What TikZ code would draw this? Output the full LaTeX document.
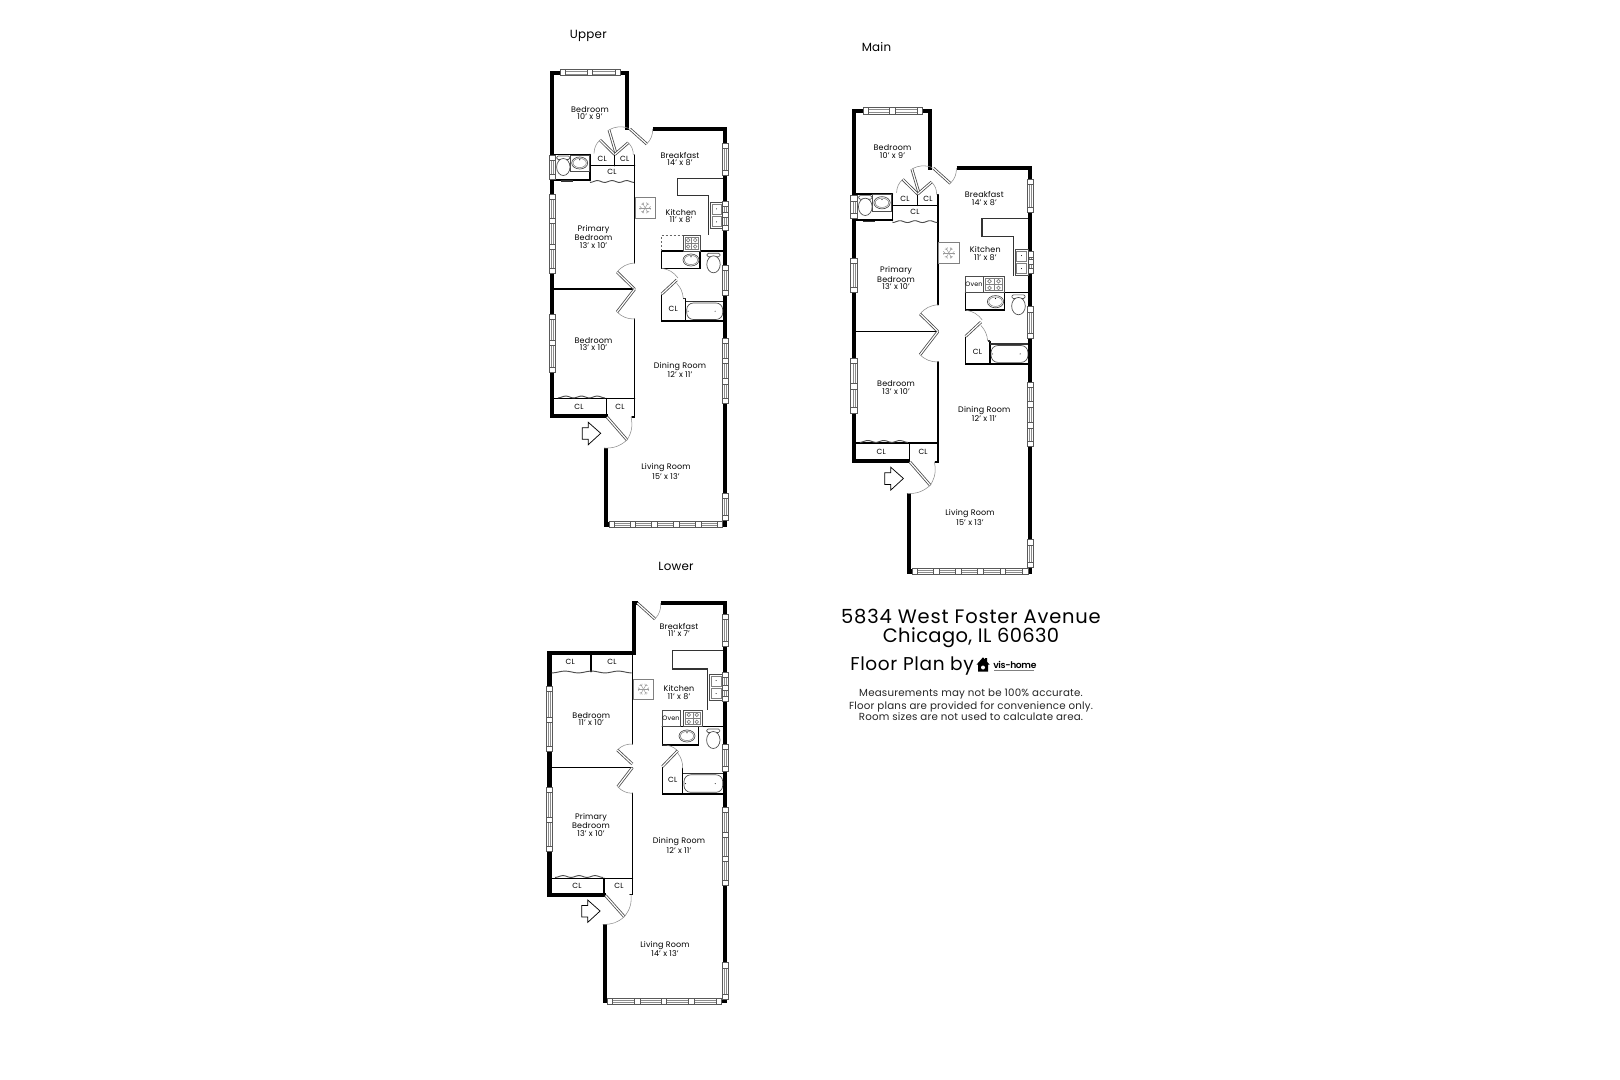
\documentclass[tikz,border=0pt]{standalone}
\usepackage{fontspec}
\usetikzlibrary{calc}
\setmainfont{Poppins}[LetterSpace=2]
\newfontfamily\titlefont{Poppins}[LetterSpace=4.2]
\newfontfamily\cityfont{Poppins}[LetterSpace=2]
\newfontfamily\byfont{Poppins}[LetterSpace=3.5]
\newfontfamily\logofont{Poppins}[LetterSpace=-4,UprightFont=* SemiBold]
\tikzset{
  wall/.style={line width=3.2pt,draw=black,line cap=butt,line join=miter},
  inwall/.style={line width=1.05pt,draw=black,line cap=round},
  thinwall/.style={line width=0.8pt,draw=black!80},
  winbox/.style={line width=0.45pt,draw=black!65,fill=white},
  winline/.style={line width=0.35pt,draw=black!45},
  leaf/.style={draw=black!70,line width=0.6pt,double=white,double distance=0.9pt},
  swing/.style={draw=black!45,line width=0.4pt},
  fix/.style={draw=black!70,line width=0.5pt,fill=white},
  fixg/.style={draw=black!50,line width=0.4pt},
  ventline/.style={draw=black!40,line width=0.35pt},
  wavy/.style={draw=black!70,line width=0.7pt},
  roomlabel/.style={inner sep=0pt,align=center,font=\fontsize{6}{5.6}\selectfont,text=black},
  clabel/.style={inner sep=0pt,font=\fontsize{5.6}{5.6}\selectfont,text=black},
  ovenlabel/.style={inner sep=0pt,font=\fontsize{4.8}{5}\selectfont,text=black},
  floorlabel/.style={inner sep=0pt,font=\fontsize{8.9}{10}\selectfont},
  titlelabel/.style={inner sep=0pt,font=\titlefont\fontsize{14.6}{16}\selectfont},
  citylabel/.style={inner sep=0pt,font=\cityfont\fontsize{14.6}{16}\selectfont},
  bylabel/.style={inner sep=0pt,font=\byfont\fontsize{13.9}{16}\selectfont},
  notelabel/.style={inner sep=0pt,font=\fontsize{7.7}{8}\selectfont,text=black!85},
}
\newcommand{\rl}[4]{\node[roomlabel] (#1) at (#2,#3) {#4};}
\newcommand{\cl}[3]{\node[clabel] (#1) at (#2,#3) {CL};}
\newcommand{\vwin}[4]{%
  \draw[winbox] (#1-3.2,#2) rectangle (#1+3.2,#3);
  \draw[winline] (#1-1.1,#2) -- (#1-1.1,#3) (#1+1.1,#2) -- (#1+1.1,#3);
  \draw[winbox] (#1-3.2,#2) rectangle (#1+3.2,#2+5);
  \draw[winbox] (#1-3.2,#3-5) rectangle (#1+3.2,#3);
  \foreach \d in {#4} {\draw[winbox] (#1-3.2,\d) rectangle (#1+3.2,\d+5.5);}
}
\newcommand{\hwin}[4]{%
  \draw[winbox] (#2,#1-3) rectangle (#3,#1+3);
  \draw[winline] (#2,#1-1.1) -- (#3,#1-1.1) (#2,#1+1.1) -- (#3,#1+1.1);
  \draw[winbox] (#2,#1-3) rectangle (#2+5,#1+3);
  \draw[winbox] (#3-5,#1-3) rectangle (#3,#1+3);
  \foreach \d in {#4} {\draw[winbox] (\d,#1-3) rectangle (\d+5.5,#1+3);}
}
\newcommand{\wave}[3]{\draw[wavy] plot[domain=#1:#2,samples=41,variable=\t] (\t,{#3+0.9*cos(1080*((\t-#1)/(#2-#1)))});}
\newcommand{\vent}[2]{%
  \draw[fix,draw=black!50] (#1,#2) rectangle (#1+20.5,#2+20.5);
  \foreach \a in {0,60,120} {\draw[ventline] ($(#1+10.2,#2+10.2)+(\a:5.8)$) -- ($(#1+10.2,#2+10.2)+(\a+180:5.8)$);}
  \foreach \a in {0,60,120,180,240,300} {\draw[ventline] ($(#1+10.2,#2+10.2)+(\a:3.8)$) -- ($(#1+10.2,#2+10.2)+(\a+16:5.6)$) ($(#1+10.2,#2+10.2)+(\a:3.8)$) -- ($(#1+10.2,#2+10.2)+(\a-16:5.6)$);}
}
\newcommand{\stove}[4]{%
  \draw[fix] (#1,#2) rectangle (#3,#4);
  \draw[fixg] (#1+2,#2+2) rectangle (#3-2,#4-2);
  \draw[fixg] (#1+2,{(#2+#4)/2}) -- (#3-2,{(#2+#4)/2}) ({(#1+#3)/2},#2+2) -- ({(#1+#3)/2},#4-2);
  \foreach \u in {0.29,0.71} \foreach \v in {0.29,0.71} {
    \draw[fixg,line width=0.5pt] ({#1+\u*(#3-#1)},{#2+\v*(#4-#2)}) circle (1.8);}
}
\newcommand{\ksink}[4]{%
  \draw[fix] (#1,#2) rectangle (#3,#4);
  \draw[fixg] (#1+1.5,#2+2) rectangle (#3-1.5,{(#2+#4)/2-0.8});
  \draw[fixg] (#1+1.5,{(#2+#4)/2+0.8}) rectangle (#3-1.5,#4-2);
  \fill[black] ({(#1+#3)/2},{(3*#2+#4)/4}) circle (0.5) ({(#1+#3)/2},{(#2+3*#4)/4}) circle (0.5);
}
\newcommand{\basin}[2]{%
  \draw[fix] (#1,#2) ellipse (8 and 6);
  \draw[fixg] (#1,#2) ellipse (6.6 and 4.6);
  \fill[black] (#1,#2-3.2) circle (0.6);
}
\newcommand{\toilet}[2]{%
  \draw[fix,rounded corners=1pt] (#1-6.5,#2-11) rectangle (#1+6.5,#2-7.5);
  \draw[fix] (#1,#2) ellipse (6.7 and 8.5);
}
\newcommand{\tub}[4]{%
  \draw[fix,rounded corners=5pt] (#1,#2) -- (#3,#2) -- (#3,#4) -- (#1,#4) -- cycle;
  \fill[black] (#1+1.5,{(#2+#4)/2}) circle (0.5) (#3-7.5,{(#2+#4)/2}) circle (0.5);
}
\newcommand{\entryarrow}[2]{%
  \draw[line width=0.55pt,draw=black,fill=white] (#1,#2+5.4) -- (#1+6,#2+5.4) -- (#1+6,#2) -- (#1+18.4,#2+11) -- (#1+6,#2+22.4) -- (#1+6,#2+17) -- (#1,#2+17) -- cycle;
}
% the plan shared by the upper and main floors
\newcommand{\planUM}[1]{%
  \draw[wall] (552.2,181) -- (552.2,72.8) -- (627,72.8) -- (627,130.5);
  \draw[wall] (652.9,129) -- (725,129) -- (725,524.5) -- (606,524.5) -- (606,448);
  \draw[wall] (552.2,179) -- (552.2,416.2) -- (607.5,416.2);
  % interior walls
  \draw[inwall] (554,154.5) -- (590,154.5) (590,154.5) -- (590,180.5) (554,180) -- (590,180);
  \draw[inwall] (614.7,154.5) -- (614.7,165.7) (590,165.7) -- (634.6,165.7) (634.6,155) -- (634.6,263);
  \draw[inwall] (554,289.2) -- (634.6,289.2) (634.6,319) -- (634.6,417) -- (632,417);
  \draw[inwall] (554,398.5) -- (634.6,398.5) (606.5,398.5) -- (606.5,416);
  \draw[thinwall] (561,181) -- (573,181);
  \wave{590}{634}{181.5}
  \wave{558}{605}{397}
  % doors
  \draw[swing] (609,130) to[bend left=25] (629,128.5);
  \draw[leaf] (616,153.5) -- (609,130);
  \draw[leaf] (630,129) -- (646.7,144);
  \draw[swing] (646.7,144) to[bend right=22] (652.7,129);
  \draw[leaf] (614.7,154.5) -- (600,140);
  \draw[swing] (600,140) to[bend right=22] (594,153.3);
  \draw[leaf] (614.7,154.5) -- (628.3,142.7);
  \draw[swing] (628.3,142.7) to[bend left=22] (633.3,155);
  \draw[leaf] (634.6,289.2) -- (617,272);
  \draw[swing] (617,272) to[bend left=22] (634.6,263);
  \draw[leaf] (634.6,289.2) -- (617,312);
  \draw[swing] (617,312) to[bend right=22] (634.6,319);
  \draw[leaf] (607,417) -- (627,440);
  \draw[swing] (604,448) to[bend right=22] (627,440);
  \draw[swing] (631,417) to[bend left=22] (627,440);
  % bath
  \draw[inwall] (661.7,251) -- (723,251) (661.7,251) -- (661.7,268.3) -- (700,268.3) -- (700,251);
  \draw[inwall] (661.7,295) -- (661.7,321) -- (723,321);
  \draw[inwall] (685.7,299) -- (685.7,321);
  \draw[thinwall] (685.7,301.5) -- (723,301.5);
  \draw[leaf] (661.7,294) -- (676.7,280);
  \draw[swing] (661.7,268.3) to[bend left=22] (678,278);
  \draw[swing] (676.7,283.3) to[bend left=18] (683.3,298.5);
  \draw[thinwall] (683.3,298.5) -- (685.7,298.5);
  \tub{686.7}{303}{722.7}{319.5}
  \basin{691}{260}
  \toilet{713.5}{264.3}
  % kitchen counter
  \draw[thinwall] (723,178.3) -- (677.7,178.3) -- (677.7,195.7) -- (708.3,195.7) -- (708.3,235);
  \entryarrow{582.3}{422.3}
  % labels
  \rl{#1bed}{590}{113}{Bedroom\\10' x 9'}
  \rl{#1bkf}{680}{159}{Breakfast\\14' x 8'}
  \rl{#1pri}{593.5}{237}{Primary\\Bedroom\\13' x 10'}
  \rl{#1bedb}{593.5}{344}{Bedroom\\13' x 10'}
  \rl{#1din}{680}{370}{Dining Room\\12' x 11'}
  \rl{#1liv}{666}{471.5}{Living Room\\15' x 13'}
  \cl{#1cla}{602.3}{159}
  \cl{#1clb}{624.7}{159}
  \cl{#1clc}{612}{171.5}
  \cl{#1cld}{579}{407}
  \cl{#1cle}{620}{407}
  \cl{#1clf}{673.3}{309}
}
\begin{document}
\begin{tikzpicture}[x=0.75pt,y=-0.75pt]
\useasboundingbox[fill=white] (0,0) rectangle (1620,1080);

% ---------- UPPER ----------
\begin{scope}
  \planUM{u}
  \rl{ukit}{681}{216.3}{Kitchen\\11' x 8'}
  \hwin{72.8}{560.7}{620.7}{587}
  \hwin{524.5}{609.3}{722.7}{630,651.7,673.3,695.5}
  \vwin{552.2}{155}{179}{155}
  \vwin{552.2}{194}{273}{218.3,244}
  \vwin{552.2}{314}{372}{340}
  \vwin{725}{143}{175}{143}
  \vwin{725}{201}{230}{212}
  \vwin{725}{265}{295}{265}
  \vwin{725}{338}{403}{358,378.5}
  \vwin{725}{493}{520}{493}
  \draw[fix] (570,155) rectangle (589,171.7);
  \basin{579.7}{163}
  \toilet{563.3}{167}
  \vent{635}{197.7}
  \stove{683.3}{235.7}{700}{251}
  \ksink{710.3}{202.3}{722.7}{228.3}
  \draw[black!60,line width=0.5pt,dash pattern=on 1.5pt off 1.5pt] (661.7,251) -- (661.7,235) -- (683.3,235);
\end{scope}

% ---------- MAIN ----------
\begin{scope}[shift={(290.7,36.5)},xscale=1.02,yscale=1.02]
  \planUM{m}
  \rl{mkit}{681}{213}{Kitchen\\11' x 8'}
  \hwin{72.8}{561}{619}{587}
  \hwin{524.5}{609.3}{722.7}{630,651.7,673.3,695.5}
  \vwin{552.2}{155.6}{178}{155.6}
  \vwin{552.2}{217}{250.4}{217}
  \vwin{552.2}{315}{369}{340}
  \vwin{725}{139.7}{172}{139.7}
  \vwin{725}{211}{232}{218}
  \vwin{725}{265}{296}{265}
  \vwin{725}{339}{402}{358,378.5}
  \vwin{725}{493}{520}{493}
  \draw[fix] (570,155) rectangle (589,171.7);
  \basin{579.7}{163}
  \toilet{563.3}{167}
  \vent{635}{202}
  \stove{679}{235.5}{700}{251}
  \ksink{710.3}{208.5}{722.7}{234}
  \draw[fix] (661,235.5) rectangle (678.7,251);
  \node[ovenlabel] (moven) at (669.9,243.2) {Oven};
\end{scope}

% ---------- LOWER ----------
\draw[wall] (549.5,752) -- (549.5,653) -- (634,653) -- (634,603) -- (638,603);
\draw[wall] (660.7,603) -- (725,603) -- (725,1001) -- (605,1001) -- (605,924.3);
\draw[wall] (549.5,750) -- (549.5,895) -- (606,895);
\draw[inwall] (591,654) -- (591,671.7);
\wave{551.7}{631.7}{672}
\draw[inwall] (632.3,655) -- (632.3,744) (551.7,767.7) -- (632.3,767.7) (632.3,793.3) -- (632.3,894.3) -- (630,894.3);
\draw[inwall] (551.7,878.3) -- (632.3,878.3) (604,878.3) -- (604,894);
\wave{555}{603}{876.5}
\draw[leaf] (637.3,603) -- (655,619);
\draw[swing] (655,619) to[bend right=22] (660.7,603);
\draw[leaf] (632.3,764) -- (617.3,750);
\draw[swing] (617.3,750) to[bend left=22] (632.3,744);
\draw[leaf] (632.3,767.7) -- (617.7,786.7);
\draw[swing] (617.7,786.7) to[bend right=22] (632.3,793.3);
\draw[leaf] (605.5,895.5) -- (624.3,916.7);
\draw[swing] (602.7,924.3) to[bend right=22] (624.3,916.7);
\draw[swing] (631,894.3) to[bend left=22] (624.3,916.7);
\entryarrow{581.7}{900}
% lower kitchen and bath
\draw[thinwall] (722.7,650.7) -- (672.3,650.7) -- (672.3,669) -- (707.3,669) -- (707.3,710);
\draw[inwall] (662.3,726.7) -- (723,726.7) (662.3,726.7) -- (662.3,745) -- (698.3,745) -- (698.3,726.7);
\draw[inwall] (662.3,767) -- (662.3,794) -- (723,794) (682.7,768.3) -- (682.7,794);
\draw[thinwall] (682.7,773.3) -- (723,773.3);
\draw[leaf] (662.3,766.7) -- (677.7,750.7);
\draw[swing] (662.3,745) to[bend left=22] (677.7,750.7);
\draw[swing] (677.7,753) to[bend left=18] (682.7,768.3);
\tub{684}{774.8}{722.7}{792.3}
\basin{687}{736}
\toilet{713.3}{740}
\vent{633.3}{679}
\draw[fix] (662.3,710) rectangle (680,726.7);
\node[ovenlabel] (loven) at (671,718.5) {Oven};
\stove{683.3}{710}{702.3}{726.7}
\ksink{709.3}{674}{722.7}{700}
\hwin{1001}{607.3}{721.7}{634.3,661,688.3}
\vwin{549.5}{686.7}{751.7}{717}
\vwin{549.5}{787.3}{851.7}{817}
\vwin{725}{614}{646.7}{614}
\vwin{725}{672.3}{701.7}{685}
\vwin{725}{744}{771.7}{744}
\vwin{725}{807.7}{885}{832,856}
\vwin{725}{962.7}{999}{962.7}
\rl{lbkf}{679}{630}{Breakfast\\11' x 7'}
\rl{lkit}{679}{692.5}{Kitchen\\11' x 8'}
\rl{lbed}{591.3}{719.3}{Bedroom\\11' x 10'}
\rl{lpri}{591}{825}{Primary\\Bedroom\\13' x 10'}
\rl{ldin}{679}{845.3}{Dining Room\\12' x 11'}
\rl{lliv}{665}{948.7}{Living Room\\14' x 13'}
\cl{lcla}{570.3}{661.7}
\cl{lclb}{612}{661.7}
\cl{lclc}{577}{885.7}
\cl{lcld}{619}{885.7}
\cl{lcle}{672.7}{780}

% ---------- CAPTIONS ----------
\node[floorlabel] (upperlabel) at (588.3,36) {Upper};
\node[floorlabel] (mainlabel) at (876.5,47) {Main};
\node[floorlabel] (lowerlabel) at (676,566.5) {Lower};
\node[titlelabel] (addr) at (971,616.7) {5834 West Foster Avenue};
\node[citylabel] (city) at (971,638) {Chicago, IL 60630};
\node[bylabel,anchor=west] (byline) at (850,666.5) {Floor Plan by};
\fill[black] (976.7,664.5) -- (983,657.3) -- (985.2,659.7) -- (985.2,658) -- (987,658) -- (987,661.7) -- (989.5,664.5) -- (988,664.5) -- (988,671.5) -- (978,671.5) -- (978,664.5) -- cycle;
\fill[white] (983,667.5) circle (2);
\node[inner sep=0pt,anchor=west,font=\logofont\fontsize{6.9}{8}\selectfont] (logo) at (993,665) {vis-home};
\draw[black!50,line width=0.5pt] (994,670.5) -- (1034,670.5);
\node[notelabel] (notea) at (971,694) {Measurements may not be 100\% accurate.};
\node[notelabel] (noteb) at (971,706.7) {Floor plans are provided for convenience only.};
\node[notelabel] (notec) at (971,716.7) {Room sizes are not used to calculate area.};
\end{tikzpicture}
\end{document}
